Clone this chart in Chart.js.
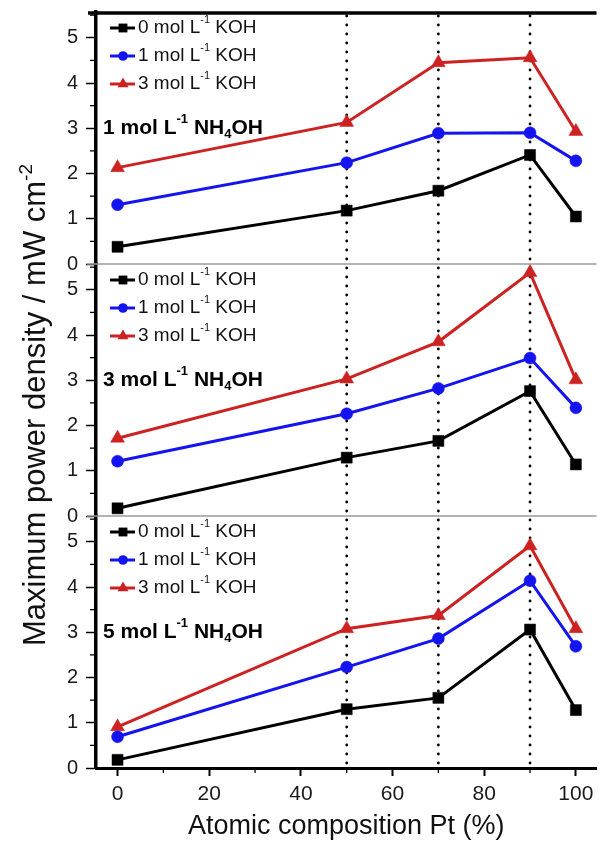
<!DOCTYPE html>
<html>
<head>
<meta charset="utf-8">
<script src="https://cdn.jsdelivr.net/npm/chart.js@4.4.1/dist/chart.umd.min.js"></script>
<style>
html, body { margin: 0; padding: 0; background: #fff; }
#wrap { width: 605px; height: 843px; }
</style>
</head>
<body>
<div id="wrap"><canvas id="graph_canvas" width="605" height="843"></canvas></div>
<script>
// Pt content (%) of the catalyst
xPt = [0, 50, 70, 90, 100];

// max power density (mW cm-2), one array per NH4OH / KOH combination
nh1_k0 = [0.38, 1.18, 1.62, 2.41, 1.05];
nh1_k1 = [1.31, 2.24, 2.89, 2.90, 2.28];
nh1_k3 = [2.13, 3.13, 4.45, 4.56, 2.93];

nh3_k0 = [0.17, 1.29, 1.66, 2.76, 1.14];
nh3_k1 = [1.21, 2.26, 2.82, 3.49, 2.39];
nh3_k3 = [1.72, 3.03, 3.85, 5.38, 3.01];

nh5_k0 = [0.18, 1.30, 1.55, 3.06, 1.28];
nh5_k1 = [0.69, 2.23, 2.86, 4.14, 2.69];
nh5_k3 = [0.91, 3.08, 3.37, 4.91, 3.08];

nhConc = ['1', '3', '5'];
kohConc = ['0', '1', '3'];
xTicks = [0, 20, 40, 60, 80, 100];
xMinor = [10, 30, 50, 70, 90];
yTicks = [0, 1, 2, 3, 4, 5];
yMinor = [0.5, 1.5, 2.5, 3.5, 4.5, 5.5];
guideLines = [50, 70, 90];

colors = ['#000000', '#1414f0', '#cc2222'];
shapes = ['rect', 'circle', 'triangle'];
radii = [7.8, 6, 8];
panelIds = ['yTop', 'yMid', 'yBot'];
panelSeries = [
    [nh1_k0, nh1_k1, nh1_k3],
    [nh3_k0, nh3_k1, nh3_k3],
    [nh5_k0, nh5_k1, nh5_k3]
];
FONT = '"Liberation Sans", Arial, sans-serif';
Chart.defaults.font.family = FONT;

function fontFor(kind, size, weight) {
    var s = (kind === 'sup' || kind === 'sub') ? Math.round(size * 0.6) : size;
    return (weight || 'normal') + ' ' + s + 'px ' + FONT;
}

function richWidth(ctx, parts, size, weight) {
    var w = 0;
    parts.forEach(p => {
        ctx.font = fontFor(p[1], size, weight);
        w += ctx.measureText(p[0]).width;
    });
    return w;
}

// text with super/subscripts, left aligned at x
function drawRich(ctx, x, y, parts, size, weight) {
    parts.forEach(p => {
        ctx.font = fontFor(p[1], size, weight);
        var dy = p[1] === 'sup' ? -size * 0.42 : (p[1] === 'sub' ? size * 0.3 : 0);
        ctx.fillText(p[0], x, y + dy);
        x += ctx.measureText(p[0]).width;
    });
}

function drawMarker(ctx, shape, x, y, r, color) {
    ctx.fillStyle = color;
    ctx.beginPath();
    if (shape === 'rect') {
        var h = r * Math.SQRT1_2;
        ctx.rect(x - h, y - h, 2 * h, 2 * h);
    } else if (shape === 'circle') {
        ctx.arc(x, y, r, 0, Math.PI * 2);
    } else {
        ctx.moveTo(x, y - r);
        ctx.lineTo(x + r * 0.866, y + r / 2);
        ctx.lineTo(x - r * 0.866, y + r / 2);
        ctx.closePath();
    }
    ctx.fill();
}

function hLine(ctx, x1, y1, x2, y2) {
    ctx.beginPath();
    ctx.moveTo(x1, y1);
    ctx.lineTo(x2, y2);
    ctx.stroke();
}

const decor = {
    id: 'decor',
    beforeDatasetsDraw(chart) {
        const ctx = chart.ctx, area = chart.chartArea, xs = chart.scales.x;
        ctx.save();
        // grey separators between the three panels
        ctx.strokeStyle = '#9a9a9a';
        ctx.lineWidth = 1.5;
        ['yTop', 'yMid'].forEach(id => {
            var yb = chart.scales[id].getPixelForValue(0);
            hLine(ctx, area.left - 9, yb, area.right, yb);
        });
        // dotted guides
        ctx.strokeStyle = '#000';
        ctx.lineWidth = 2.8;
        ctx.lineCap = 'round';
        ctx.setLineDash([0, 9]);
        guideLines.forEach(v => {
            var x = xs.getPixelForValue(v);
            hLine(ctx, x, area.top + 4, x, area.bottom);
        });
        ctx.restore();
    },
    afterDraw(chart) {
        const ctx = chart.ctx, area = chart.chartArea, xs = chart.scales.x;
        ctx.save();
        // top frame
        ctx.strokeStyle = '#000';
        ctx.lineWidth = 3.5;
        hLine(ctx, area.left - 8, area.top + 1, area.right, area.top + 1);
        // minor ticks
        ctx.lineWidth = 1.3;
        panelIds.forEach(id => {
            var s = chart.scales[id];
            yMinor.forEach(v => {
                if (v > s.max) return;
                var y = s.getPixelForValue(v);
                hLine(ctx, area.left - 6, y, area.left, y);
            });
        });
        xMinor.forEach(v => {
            var x = xs.getPixelForValue(v);
            hLine(ctx, x, area.bottom, x, area.bottom + 5);
        });

        // legends and labels inside each panel
        panelIds.forEach((id, p) => {
            var s = chart.scales[id];
            var top = s.getPixelForValue(s.max);
            ctx.textBaseline = 'middle';
            for (let k = 0; k < 3; k++) {
                var y = top + 16 + k * 28;
                ctx.strokeStyle = colors[k];
                ctx.lineWidth = 3;
                hLine(ctx, area.left + 14, y, area.left + 39, y);
                drawMarker(ctx, shapes[k], area.left + 27, y, radii[k] * 0.8, colors[k]);
                ctx.fillStyle = '#111';
                drawRich(ctx, area.left + 42, y, [[kohConc[k] + ' mol L', 'n'], ['-1', 'sup'], [' KOH', 'n']], 19);
            }
            ctx.fillStyle = '#000';
            drawRich(ctx, area.left + 7, s.getPixelForValue(3),
                [[nhConc[p] + ' mol L', 'n'], ['-1', 'sup'], [' NH', 'n'], ['4', 'sub'], ['OH', 'n']], 21, 'bold');
        });

        // y title, spans all three panels
        var parts = [['Maximum power density / mW cm', 'n'], ['-2', 'sup']];
        ctx.translate(45, (area.top + area.bottom) / 2 + 15);
        ctx.rotate(-Math.PI / 2);
        ctx.textBaseline = 'alphabetic';
        ctx.fillStyle = '#111';
        drawRich(ctx, -richWidth(ctx, parts, 31) / 2, 0, parts, 31);
        ctx.restore();
    }
};

function yScale() {
    return {
        type: 'linear',
        position: 'left',
        stack: 'panels',
        stackWeight: 1,
        min: 0,
        max: 5.57,
        afterBuildTicks: s => { s.ticks = yTicks.map(v => ({value: v})); },
        afterFit: s => { s.width = 96; s.paddingTop = 0; s.paddingBottom = 0; },
        grid: {drawOnChartArea: false, drawTicks: true, tickLength: 10, tickWidth: 1.5, color: '#000'},
        border: {display: true, color: '#000', width: 3.5},
        ticks: {color: '#1a1a1a', font: {size: 20}, padding: 8}
    };
}

function buildDatasets() {
    var datasets = [];
    for (let p = 0; p < panelSeries.length; p++) {
        for (let k = 0; k < 3; k++) {
            datasets.push({
                label: nhConc[p] + ' NH4OH / ' + kohConc[k] + ' KOH',
                data: xPt.map((x, i) => ({x: x, y: panelSeries[p][k][i]})),
                yAxisID: panelIds[p],
                borderColor: colors[k],
                backgroundColor: colors[k],
                borderWidth: 3,
                pointStyle: shapes[k],
                pointRadius: radii[k],
                pointBorderWidth: 0.5,
                tension: 0,
                clip: false
            });
        }
    }
    return datasets;
}

const canvas = document.getElementById('graph_canvas');
const ctx = canvas.getContext('2d');
chart = new Chart(ctx, {
    type: 'line',
    data: {datasets: buildDatasets()},
    options: {
        responsive: false,
        maintainAspectRatio: false,
        animation: false,
        layout: {padding: {top: 12, left: 0, right: 0, bottom: 0}},
        scales: {
            x: {
                type: 'linear',
                min: -4.7,
                max: 104.5,
                afterBuildTicks: s => { s.ticks = xTicks.map(v => ({value: v})); },
                afterFit: s => { s.height = 75; s.paddingLeft = 0; s.paddingRight = 0; },
                grid: {drawOnChartArea: false, tickLength: 8, tickWidth: 2, color: '#000'},
                border: {color: '#000', width: 3},
                ticks: {color: '#1a1a1a', font: {size: 21}, padding: 6, maxRotation: 0},
                title: {display: true, text: 'Atomic composition Pt (%)', font: {size: 27}, color: '#111', padding: 0}
            },
            // last one is placed on top of the stack
            yBot: yScale(),
            yMid: yScale(),
            yTop: yScale()
        },
        plugins: {
            legend: {display: false},
            tooltip: {enabled: false}
        }
    },
    plugins: [decor]
});
</script>
</body>
</html>
